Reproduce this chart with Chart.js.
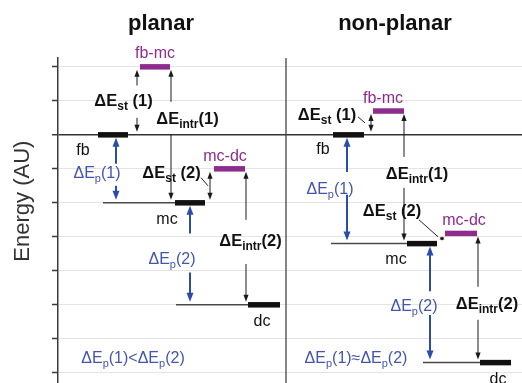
<!DOCTYPE html>
<html><head><meta charset="utf-8">
<script src="https://cdn.jsdelivr.net/npm/chart.js@4/dist/chart.umd.min.js"></script>
<style>html,body{margin:0;padding:0;background:#fff}</style>
</head><body>
<canvas id="c" width="522" height="383"></canvas>
<script>
// ---------- data ----------
const levelNames = ['fb', 'fb-mc', 'mc', 'mc-dc', 'dc'];
const planarEnergy = [0, 2, -2, -1, -5];
const nonPlanarEnergy = [0, 0.7, -3.2, -2.9, -6.7];
const tickValues = [2, 1, 0, -1, -2, -3, -4, -5, -6, -7];
const panelTitles = ['planar', 'non-planar'];
const axisTitle = 'Energy (AU)';
const comparisonLabels = ['ΔE_{p}(1)<ΔE_{p}(2)', 'ΔE_{p}(1)≈ΔE_{p}(2)'];

// ---------- layout (horizontal positions in x-scale units) ----------
const planarBarX = [[40, 70], [82, 112], [117, 147], [156, 187], [190, 222]];
const nonPlanarBarX = [[275, 306], [315, 346], [349, 379], [387, 419], [422, 453]];
const planarConnectorStart = {2: 45, 4: 118};
const nonPlanarConnectorStart = {2: 273, 4: 365};
const dividerX = 228;

const BLACK = '#111111', PURPLE = '#8e2c8e', BLUE_TXT = '#4455b0', BLUE = '#2c4cab';
const levelColor = [BLACK, PURPLE, BLACK, PURPLE, BLACK];

// arrows: between level a (upper) and level b (lower), optional gap [hi, lo] in energy units
const planarArrows = [
  {x: 79, a: 1, b: 0, gap: [1.45, 0.5]},
  {x: 113, a: 1, b: 2, gap: [0.97, 0.02]},
  {x: 58, a: 0, b: 2, gap: [-0.85, -1.5], blue: true},
  {x: 152, a: 3, b: 2},
  {x: 188, a: 3, b: 4, gap: [-2.5, -3.8]},
  {x: 132, a: 2, b: 4, gap: [-2.9, -4.05], blue: true}
];
const nonPlanarArrows = [
  {x: 313, a: 1, b: 0},
  {x: 346, a: 1, b: 2, gap: [-0.65, -1.56]},
  {x: 289, a: 0, b: 2, gap: [-1.09, -1.76], blue: true},
  {x: 384, a: 3, b: 2},
  {x: 420, a: 3, b: 4, gap: [-4.47, -5.44]},
  {x: 372, a: 2, b: 4, gap: [-4.6, -5.3], blue: true}
];
const leaders = [
  [[143, -1.26], [150, -1.5]],
  [[300, 0.53], [307, 0.35]],
  [[361, -2.5], [380, -3.0]]
];
// text labels: [text, x, energy, kind]
const labels = [
  ['fb-mc', 97, 2.44, 'purple'],
  ['ΔE_{st} (1)', 65.5, 1.03, 'bold'],
  ['ΔE_{intr}(1)', 129.5, 0.5, 'bold'],
  ['fb', 25, -0.41, 'plain'],
  ['ΔE_{p}(1)', 39, -1.09, 'blue'],
  ['ΔE_{st} (2)', 113.5, -1.09, 'bold'],
  ['mc-dc', 167, -0.59, 'purple'],
  ['mc', 109, -2.44, 'plain'],
  ['ΔE_{intr}(2)', 192.5, -3.09, 'bold'],
  ['ΔE_{p}(2)', 114, -3.62, 'blue'],
  ['dc', 204, -5.44, 'plain'],
  [comparisonLabels[0], 75, -6.53, 'blue'],
  ['fb-mc', 325, 1.12, 'purple'],
  ['ΔE_{st} (1)', 269, 0.62, 'bold'],
  ['fb', 265, -0.38, 'plain'],
  ['ΔE_{intr}(1)', 359, -1.12, 'bold'],
  ['ΔE_{p}(1)', 272, -1.56, 'blue'],
  ['ΔE_{st} (2)', 334, -2.2, 'bold'],
  ['mc-dc', 406, -2.47, 'purple'],
  ['mc', 338, -3.62, 'plain'],
  ['ΔE_{p}(2)', 356, -5.0, 'blue'],
  ['ΔE_{intr}(2)', 429, -4.94, 'bold'],
  [comparisonLabels[1], 298, -6.53, 'blue'],
  ['dc', 440, -7.15, 'plain']
];
const titleX = [103, 337];

// ---------- datasets ----------
const datasets = [];
function addLine(pts, color, width) {
  datasets.push({data: pts, showLine: true, borderColor: color, borderWidth: width,
    pointRadius: 0, fill: false, tension: 0, borderCapStyle: 'butt'});
}
[[planarEnergy, planarBarX, planarConnectorStart], [nonPlanarEnergy, nonPlanarBarX, nonPlanarConnectorStart]]
  .forEach(([E, BX, CS]) => {
    Object.keys(CS).forEach(k => {
      addLine([{x: CS[k], y: E[k]}, {x: BX[k][0], y: E[k]}], '#4a4a4a', 1.5);
    });
    levelNames.forEach((n, i) => {
      addLine([{x: BX[i][0], y: E[i]}, {x: BX[i][1], y: E[i]}], levelColor[i], 5.5);
    });
  });
addLine([{x: dividerX, y: -7.3}, {x: dividerX, y: 2.26}], '#444', 1.3);

const FAM = 'Arial, "Liberation Sans", Helvetica, sans-serif';
function drawRich(ctx, str, cx, cy, size, bold, color) {
  const parts = []; const re = /_\{([^}]*)\}/g; let last = 0, m;
  while ((m = re.exec(str))) {
    if (m.index > last) parts.push({t: str.slice(last, m.index), sub: false});
    parts.push({t: m[1], sub: true}); last = re.lastIndex;
  }
  if (last < str.length) parts.push({t: str.slice(last), sub: false});
  const fontFor = p => `${bold ? 'bold ' : ''}${p.sub ? Math.round(size * 0.7) : size}px ${FAM}`;
  let w = 0;
  parts.forEach(p => { ctx.font = fontFor(p); p.w = ctx.measureText(p.t).width; w += p.w; });
  let x = cx - w / 2;
  ctx.fillStyle = color; ctx.textAlign = 'left'; ctx.textBaseline = 'alphabetic';
  const base = cy + size * 0.36;
  parts.forEach(p => { ctx.font = fontFor(p); ctx.fillText(p.t, x, p.sub ? base + size * 0.28 : base); x += p.w; });
}
function head(ctx, x, tip, dir, len, hw) {
  ctx.beginPath(); ctx.moveTo(x, tip);
  ctx.lineTo(x - hw, tip - dir * len); ctx.lineTo(x + hw, tip - dir * len);
  ctx.closePath(); ctx.fill();
}

const overlay = {
  id: 'overlay',
  afterDatasetsDraw(chart) {
    const ctx = chart.ctx, xs = chart.scales.x, ys = chart.scales.y;
    ctx.save();
    // arrows
    [[planarEnergy, planarArrows], [nonPlanarEnergy, nonPlanarArrows]].forEach(([E, arr]) => {
      arr.forEach(a => {
        const px = xs.getPixelForValue(a.x);
        const yTop = ys.getPixelForValue(E[a.a]) + 3;
        const yBot = ys.getPixelForValue(E[a.b]) - 3;
        const span = yBot - yTop;
        let len = a.blue ? 9 : 7, hw = a.blue ? 3.5 : 2.6;
        if (span < 2 * len + 2) { len = Math.max(3, span / 2 - 0.5); hw = 2.4; }
        const col = a.blue ? BLUE : '#1a1a1a';
        ctx.strokeStyle = col; ctx.fillStyle = col; ctx.lineWidth = a.blue ? 2 : 1;
        const segs = [];
        if (a.gap) {
          segs.push([yTop + len * 0.6, ys.getPixelForValue(a.gap[0])]);
          segs.push([ys.getPixelForValue(a.gap[1]), yBot - len * 0.6]);
        } else segs.push([yTop + len * 0.6, yBot - len * 0.6]);
        segs.forEach(s => { ctx.beginPath(); ctx.moveTo(px, s[0]); ctx.lineTo(px, s[1]); ctx.stroke(); });
        head(ctx, px, yTop, -1, len, hw);
        head(ctx, px, yBot, 1, len, hw);
      });
    });
    // leader lines
    ctx.strokeStyle = '#222'; ctx.lineWidth = 1;
    leaders.forEach(l => {
      ctx.beginPath();
      ctx.moveTo(xs.getPixelForValue(l[0][0]), ys.getPixelForValue(l[0][1]));
      ctx.lineTo(xs.getPixelForValue(l[1][0]), ys.getPixelForValue(l[1][1]));
      ctx.stroke();
    });
    // labels
    labels.forEach(([t, x, v, kind]) => {
      const px = xs.getPixelForValue(x), py = ys.getPixelForValue(v);
      if (kind === 'bold') drawRich(ctx, t, px, py, 16.5, true, '#111');
      else if (kind === 'purple') drawRich(ctx, t, px, py, 16, false, PURPLE);
      else if (kind === 'blue') drawRich(ctx, t, px, py, 16, false, BLUE_TXT);
      else drawRich(ctx, t, px, py, 16, false, '#111');
    });
    // titles
    panelTitles.forEach((t, i) => drawRich(ctx, t, xs.getPixelForValue(titleX[i]), 22, 22, true, '#111'));
    // axis title (centred on the energy range between the fb-mc and dc levels)
    ctx.translate(21, ys.getPixelForValue(-1.95));
    ctx.rotate(-Math.PI / 2);
    drawRich(ctx, axisTitle, 0, 0, 22, false, '#333');
    ctx.restore();
  }
};

new Chart(document.getElementById('c'), {
  type: 'scatter',
  data: {datasets},
  options: {
    responsive: false, animation: false, devicePixelRatio: 1,
    layout: {padding: {top: 58, left: 0, right: 0, bottom: 0}},
    plugins: {legend: {display: false}, tooltip: {enabled: false}},
    scales: {
      x: {type: 'linear', min: 0, max: 464, display: false},
      y: {
        type: 'linear', min: -7.3, max: 2.26,
        afterBuildTicks: s => { s.ticks = tickValues.map(v => ({value: v})); },
        afterFit: s => { s.width = 58; },
        ticks: {display: false},
        border: {display: true, color: '#3a3a3a', width: 1.5},
        grid: {
          color: c => (c.tick && c.tick.value === 0) ? '#333' : '#e4e4e4',
          lineWidth: c => (c.tick && c.tick.value === 0) ? 1.5 : 1,
          tickColor: '#3a3a3a', tickLength: 6, tickWidth: 1.5, drawTicks: true
        }
      }
    }
  },
  plugins: [overlay]
});
</script>
</body></html>
